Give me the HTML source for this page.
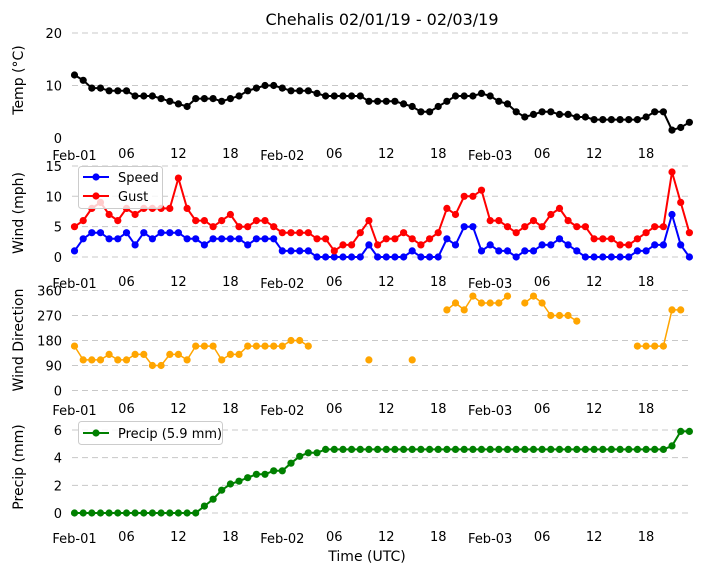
<!DOCTYPE html>
<html><head><meta charset="utf-8"><style>
body{margin:0;background:#fff;width:704px;height:573px;overflow:hidden}
svg text{font-family:"DejaVu Sans","Liberation Sans",sans-serif;fill:#000}
</style></head><body>
<svg id="s" width="704" height="573" xmlns="http://www.w3.org/2000/svg"></svg>
<script>
var s=document.getElementById('s'),h='';
function X(i){return 74.5+i*8.66;}
function grid(y){h+='<line x1="72" x2="691" y1="'+y+'" y2="'+y+'" stroke="#c8c8c8" stroke-width="1" stroke-dasharray="6,4"/>';}
function tl(t,y){h+='<text x="62" y="'+(y+5)+'" font-size="13" text-anchor="end">'+t+'</text>';}
function series(d,f,col,r,lw){
  var seg=[];
  for(var i=0;i<d.length;i++){
    if(d[i]==null){if(seg.length)h+='<polyline fill="none" stroke="'+col+'" stroke-width="'+lw+'" points="'+seg.join(' ')+'"/>';seg=[];continue;}
    seg.push(X(i).toFixed(1)+','+f(d[i]).toFixed(1));
  }
  if(seg.length)h+='<polyline fill="none" stroke="'+col+'" stroke-width="'+lw+'" points="'+seg.join(' ')+'"/>';
  for(var i=0;i<d.length;i++)if(d[i]!=null)h+='<circle cx="'+X(i).toFixed(1)+'" cy="'+f(d[i]).toFixed(1)+'" r="'+r+'" fill="'+col+'"/>';
}
function xt(y){
  var L=[['Feb-01',0,1],['06',6,0],['12',12,0],['18',18,0],['Feb-02',24,1],['06',30,0],['12',36,0],['18',42,0],['Feb-03',48,1],['06',54,0],['12',60,0],['18',66,0]];
  L.forEach(function(l){h+='<text x="'+X(l[1])+'" y="'+(y+(l[2]?2:0))+'" font-size="13" text-anchor="middle">'+l[0]+'</text>';});
}
function yl(t,y){h+='<text transform="translate(23,'+y+') rotate(-90)" font-size="14" text-anchor="middle">'+t+'</text>';}
h+='<text x="382" y="25" font-size="16" text-anchor="middle">Chehalis 02/01/19 - 02/03/19</text>';
// panel1
var T=[12,11,9.5,9.5,9,9,9,8,8,8,7.5,7,6.5,6,7.5,7.5,7.5,7,7.5,8,9,9.5,10,10,9.5,9,9,9,8.5,8,8,8,8,8,7,7,7,7,6.5,6,5,5,6,7,8,8,8,8.5,8,7,6.5,5,4,4.5,5,5,4.5,4.5,4,4,3.5,3.5,3.5,3.5,3.5,3.5,4,5,5,1.5,2,3];
var f1=function(v){return 138-v*5.25;};
grid(33);grid(85.5);tl('20',33);tl('10',85.5);tl('0',138);
series(T,f1,'#000',3.6,2);xt(158);yl('Temp (°C)',80);
// panel2
var f2=function(v){return 257-v*6.07;};
[0,5,10,15].forEach(function(v){grid(f2(v));tl(v,f2(v));});
var S=[1,3,4,4,3,3,4,2,4,3,4,4,4,3,3,2,3,3,3,3,2,3,3,3,1,1,1,1,0,0,0,0,0,0,2,0,0,0,0,1,0,0,0,3,2,5,5,1,2,1,1,0,1,1,2,2,3,2,1,0,0,0,0,0,0,1,1,2,2,7,2,0];
var G=[5,6,8,9,7,6,8,7,8,8,8,8,13,8,6,6,5,6,7,5,5,6,6,5,4,4,4,4,3,3,1,2,2,4,6,2,3,3,4,3,2,3,4,8,7,10,10,11,6,6,5,4,5,6,5,7,8,6,5,5,3,3,3,2,2,3,4,5,5,14,9,4];
series(S,f2,'#0000ff',3.6,2);series(G,f2,'#ff0000',3.6,2);
h+='<rect x="78.5" y="166.5" width="84" height="42" rx="3" fill="#fff" fill-opacity="0.8" stroke="#ccc"/>';
h+='<line x1="83" x2="109" y1="177" y2="177" stroke="#00f" stroke-width="2"/><circle cx="96" cy="177" r="3.6" fill="#00f"/><text x="118" y="182" font-size="13">Speed</text>';
h+='<line x1="83" x2="109" y1="196" y2="196" stroke="#f00" stroke-width="2"/><circle cx="96" cy="196" r="3.6" fill="#f00"/><text x="118" y="201" font-size="13">Gust</text>';
xt(286);yl('Wind (mph)',213);
// panel3
var f3=function(v){return 390.5-v*100/360;};
[0,90,180,270,360].forEach(function(v){grid(f3(v));tl(v,f3(v));});
var D=[160,110,110,110,130,110,110,130,130,90,90,130,130,110,160,160,160,110,130,130,160,160,160,160,160,180,180,160,null,null,null,null,null,null,110,null,null,null,null,110,null,null,null,290,315,290,340,315,315,315,340,null,315,340,315,270,270,270,250,null,null,null,null,null,null,160,160,160,160,290,290,null];
series(D,f3,'#ffa500',3.6,1.5);
xt(413);yl('Wind Direction',340);
// panel4
var f4=function(v){return 513-v*13.83;};
[0,2,4,6].forEach(function(v){grid(f4(v));tl(v,f4(v));});
var P=[0,0,0,0,0,0,0,0,0,0,0,0,0,0,0,0.5,1.0,1.65,2.1,2.3,2.55,2.8,2.8,3.05,3.05,3.6,4.1,4.35,4.35];
while(P.length<69)P.push(4.6);P.push(4.85,5.9,5.9);
series(P,f4,'#008000',3.6,2);
h+='<rect x="78.5" y="421.5" width="144" height="23" rx="3" fill="#fff" fill-opacity="0.8" stroke="#ccc"/>';
h+='<line x1="83" x2="109" y1="433" y2="433" stroke="#008000" stroke-width="2"/><circle cx="96" cy="433" r="3.6" fill="#008000"/><text x="118" y="438" font-size="13">Precip (5.9 mm)</text>';
xt(541);yl('Precip (mm)',467);
h+='<text x="367" y="561" font-size="14" text-anchor="middle">Time (UTC)</text>';
s.innerHTML=h;
</script>
</body></html>
